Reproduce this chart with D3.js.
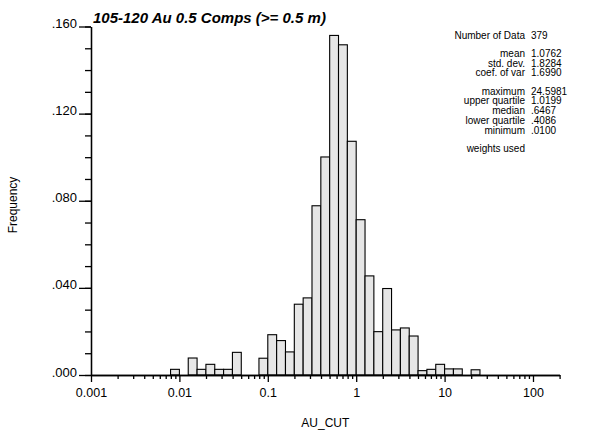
<!DOCTYPE html>
<html>
<head>
<meta charset="utf-8">
<script src="https://cdn.jsdelivr.net/npm/d3@7"></script>
<style>
  html, body { margin: 0; padding: 0; background: #fff; }
  svg { display: block; font-family: "Liberation Sans", Arial, Helvetica, sans-serif; }
</style>
</head>
<body>
<svg id="chart" width="602" height="433"></svg>
<script>
// ---- data ----
const title = "105-120 Au 0.5 Comps (>= 0.5 m)";
const xLabel = "AU_CUT";
const yLabel = "Frequency";
// lower edge of each bin, as log10(AU_CUT); bins are 0.1 log units wide
const binLogStart = [-2.1, -2.0, -1.9, -1.8, -1.7, -1.6, -1.5, -1.4, -1.3, -1.2,
                     -1.1, -1.0, -0.9, -0.8, -0.7, -0.6, -0.5, -0.4, -0.3, -0.2,
                     -0.1, 0.0, 0.1, 0.2, 0.3, 0.4, 0.5, 0.6, 0.7, 0.8,
                     0.9, 1.0, 1.1, 1.2, 1.3];
const binWidthLog = 0.1;
const frequency = [0.0026, 0.0, 0.0078, 0.0026, 0.0049, 0.0026, 0.0026, 0.0104, 0.0, 0.0,
                   0.0077, 0.0185, 0.0158, 0.0106, 0.0325, 0.0354, 0.0777, 0.1001, 0.1559, 0.1516,
                   0.1073, 0.0713, 0.0455, 0.0199, 0.0397, 0.0207, 0.0216, 0.0179, 0.0020, 0.0026,
                   0.0049, 0.0028, 0.0028, 0.0, 0.0024];
const xMajorTicks = [0.001, 0.01, 0.1, 1, 10, 100];
const xTickLabels = ["0.001", "0.01", "0.1", "1", "10", "100"];
const yMajorTicks = [0, 0.04, 0.08, 0.12, 0.16];
const yTickLabels = [".000", ".040", ".080", ".120", ".160"];
const yMinorStep = 0.01;
const statLabels = ["Number of Data", "mean", "std. dev.", "coef. of var",
                    "maximum", "upper quartile", "median", "lower quartile", "minimum",
                    "weights used"];
const statValues = ["379", "1.0762", "1.8284", "1.6990",
                    "24.5981", "1.0199", ".6467", ".4086", ".0100", ""];
const statGroupBreaks = [1, 4, 9]; // rows that start a new block

// ---- layout ----
const svg = d3.select("#chart");
const x = d3.scaleLog().domain([0.001, 200]).range([91, 559.6]);
const y = d3.scaleLinear().domain([0, 0.16]).range([375, 26.5]);

// bars
const bins = binLogStart.map((s, i) => ({
  x0: Math.pow(10, s), x1: Math.pow(10, s + binWidthLog), f: frequency[i]
})).filter(d => d.f > 0);

svg.append("g").selectAll("rect").data(bins).join("rect")
  .attr("x", d => x(d.x0))
  .attr("y", d => y(d.f))
  .attr("width", d => x(d.x1) - x(d.x0))
  .attr("height", d => y(0) - y(d.f))
  .attr("fill", "#e6e6e6")
  .attr("stroke", "#000")
  .attr("stroke-width", 1.1);

// x minor ticks
const xMinor = [];
for (let e = -3; e <= 2; e++) for (let m = 2; m <= 9; m++) {
  const v = m * Math.pow(10, e);
  if (v <= 200) xMinor.push(v);
}
svg.append("g").attr("transform", `translate(0,${y(0)})`)
  .call(d3.axisBottom(x).tickValues(xMinor).tickSize(4).tickSizeOuter(0).tickFormat(""));
const xAxis = svg.append("g").attr("transform", `translate(0,${y(0)})`)
  .call(d3.axisBottom(x).tickValues(xMajorTicks).tickSize(7).tickSizeOuter(0)
    .tickFormat((d, i) => xTickLabels[i]));
xAxis.selectAll("text").attr("font-size", 12.5).attr("fill", "#000").attr("dy", "0").attr("y", 22);

// y minor ticks
const yMinor = d3.range(0, 0.16 + 1e-9, yMinorStep);
svg.append("g").attr("transform", `translate(${x(0.001)},0)`)
  .call(d3.axisLeft(y).tickValues(yMinor).tickSize(6).tickSizeOuter(0).tickFormat(""));
const yAxis = svg.append("g").attr("transform", `translate(${x(0.001)},0)`)
  .call(d3.axisLeft(y).tickValues(yMajorTicks).tickSize(12).tickSizeOuter(0)
    .tickFormat((d, i) => yTickLabels[i]));
yAxis.selectAll("text").attr("font-size", 13).attr("fill", "#000").attr("dy", "0").attr("y", 1).attr("x", -14);

svg.selectAll(".domain, .tick line").attr("stroke", "#000").attr("stroke-width", 1.3);
svg.selectAll("g").attr("font-family", null);

// title
svg.append("text").attr("x", 93).attr("y", 23)
  .attr("font-size", 15).attr("font-weight", "bold").attr("font-style", "italic")
  .text(title);

// axis titles
svg.append("text").attr("x", (x(0.001) + x(200)) / 2).attr("y", 427)
  .attr("text-anchor", "middle").attr("font-size", 12).text(xLabel);
svg.append("text").attr("transform", "translate(17,205) rotate(-90)")
  .attr("text-anchor", "middle").attr("font-size", 12).text(yLabel);

// statistics block
let rowY = 38.5;
const stats = svg.append("g").attr("font-size", 10);
statLabels.forEach((lab, i) => {
  if (i > 0) rowY += 9.8 + (statGroupBreaks.includes(i) ? 8.4 : 0);
  stats.append("text").attr("x", 525).attr("y", rowY).attr("text-anchor", "end").text(lab);
  if (statValues[i]) stats.append("text").attr("x", 531).attr("y", rowY).text(statValues[i]);
});
</script>
</body>
</html>
